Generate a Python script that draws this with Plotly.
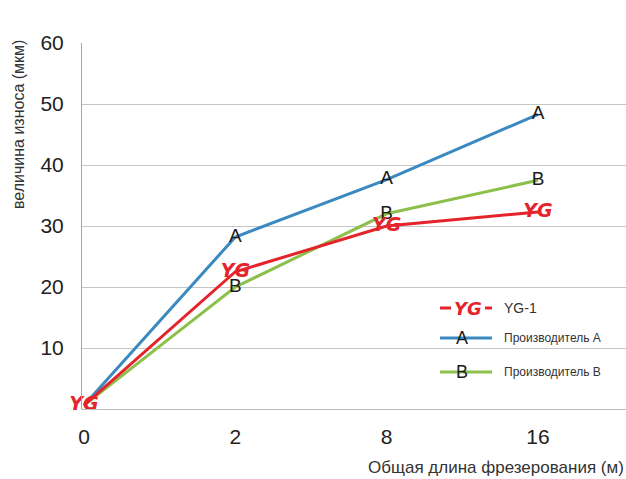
import plotly.graph_objects as go

# Milling length categories (m) and wear (µm) per tool maker
lengths = ["0", "2", "8", "16"]
wear_yg1 = [0.6, 22.5, 30, 32.3]
wear_a = [0.6, 28.2, 37.6, 48.3]
wear_b = [0.6, 20, 32, 37.5]
y_ticks = [10, 20, 30, 40, 50, 60]

RED = "#e5232b"
BLUE = "#3a89c1"
GREEN = "#8cc04a"
FONT = "Liberation Sans, Arial, sans-serif"
LOGO_FONT = "DejaVu Sans, sans-serif"
LOGO = "<b><i>YG</i></b>"

xpos = list(range(len(lengths)))

fig = go.Figure()

fig.add_trace(go.Scatter(
    x=xpos, y=wear_b, mode="lines+text", name="Производитель B",
    line=dict(color=GREEN, width=3),
    text=["", "B", "B", "B"], textposition="middle center",
    textfont=dict(size=19, color="#1a1a1a", family=FONT),
    cliponaxis=False, showlegend=False,
))
fig.add_trace(go.Scatter(
    x=xpos, y=wear_a, mode="lines+text", name="Производитель A",
    line=dict(color=BLUE, width=3),
    text=["", "A", "A", "A"], textposition="middle center",
    textfont=dict(size=19, color="#1a1a1a", family=FONT),
    cliponaxis=False, showlegend=False,
))
fig.add_trace(go.Scatter(
    x=xpos, y=wear_yg1, mode="lines+text", name="YG-1",
    line=dict(color=RED, width=3),
    text=[LOGO] * 4, textposition="middle center",
    textfont=dict(size=19, color=RED, family=LOGO_FONT),
    cliponaxis=False, showlegend=False,
))

# Plot-area geometry in pixels, used to place the hand-built legend
L, T, W, H = 82, 43, 544, 366


def px(x):
    return (x - L) / W


def py(y):
    return (T + H - y) / H


shapes = []
annotations = []

# Legend rows: YG-1, A, B
rows = [
    ("YG-1", RED, LOGO, 308, 14, RED, 18, LOGO_FONT),
    ("Производитель A", BLUE, "A", 338, 12, "#1a1a1a", 18, FONT),
    ("Производитель B", GREEN, "B", 372, 12, "#1a1a1a", 18, FONT),
]
for label, color, mark, yrow, fsize, mcol, msize, mfam in rows:
    if mark == LOGO:
        segs = [(440, 451), (485, 492)]
        mx = 468
    else:
        segs = [(440, 492)]
        mx = 462
    for a, b in segs:
        shapes.append(dict(type="line", xref="paper", yref="paper",
                           x0=px(a), x1=px(b), y0=py(yrow), y1=py(yrow),
                           line=dict(color=color, width=3)))
    annotations.append(dict(xref="paper", yref="paper", x=px(mx), y=py(yrow),
                            text=mark, showarrow=False, xanchor="center", yanchor="middle",
                            font=dict(size=msize, color=mcol, family=mfam)))
    annotations.append(dict(xref="paper", yref="paper", x=px(502), y=py(yrow),
                            text=label, showarrow=False, xanchor="left", yanchor="middle",
                            font=dict(size=fsize, color="#333333", family=FONT)))

# Axis titles
annotations.append(dict(xref="paper", yref="paper", x=px(18), y=py(125),
                        text="величина износа (мкм)", textangle=-90, showarrow=False,
                        xanchor="center", yanchor="middle",
                        font=dict(size=16, color="#333333", family=FONT)))
annotations.append(dict(xref="paper", yref="paper", x=1.0, y=py(467),
                        text="Общая длина фрезерования (м)", showarrow=False,
                        xanchor="right", yanchor="middle",
                        font=dict(size=17, color="#333333", family=FONT)))

fig.update_layout(
    width=626, height=479,
    margin=dict(l=L, r=0, t=T, b=479 - T - H),
    paper_bgcolor="white", plot_bgcolor="white",
    showlegend=False,
    shapes=shapes, annotations=annotations,
    font=dict(family=FONT, color="#222222"),
)
fig.update_xaxes(
    range=[-2 / 151.33, 3 + 88 / 151.33],
    tickvals=xpos, ticktext=lengths,
    showgrid=False, zeroline=False,
    showline=True, linecolor="#bdbdbd", linewidth=1,
    ticks="", ticklabelstandoff=9,
    tickfont=dict(size=21, color="#222222", family=FONT),
)
fig.update_yaxes(
    range=[0, 60], tickvals=y_ticks,
    showgrid=True, gridcolor="#c6c6c6", gridwidth=1,
    zeroline=False, showline=True, linecolor="#a8a8a8", linewidth=1,
    ticks="", ticklabelstandoff=13,
    tickfont=dict(size=21, color="#222222", family=FONT),
)

fig.write_html("out.html")
